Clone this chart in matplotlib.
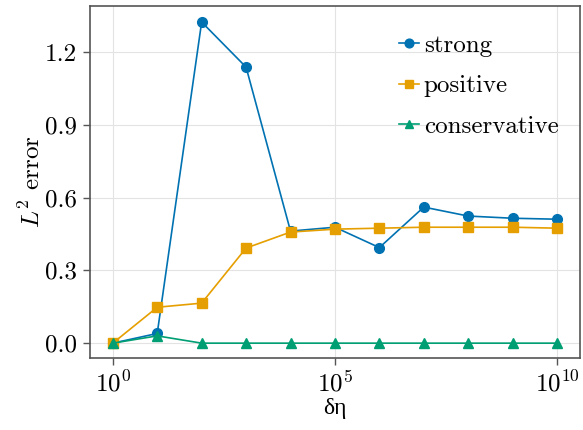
import numpy as np
import matplotlib
matplotlib.use("Agg")
import matplotlib.pyplot as plt

# data
deta = [1e0, 1e1, 1e2, 1e3, 1e4, 1e5, 1e6, 1e7, 1e8, 1e9, 1e10]
strong = [0.0, 0.04, 1.324, 1.138, 0.462, 0.478, 0.394, 0.561, 0.524, 0.515, 0.511]
positive = [0.0, 0.148, 0.165, 0.392, 0.458, 0.470, 0.474, 0.478, 0.478, 0.478, 0.474]
conservative = [0.0, 0.03, 0.0, 0.0, 0.0, 0.0, 0.0, 0.0, 0.0, 0.0, 0.0]

xticks = [1e0, 1e5, 1e10]
yticks = [0.0, 0.3, 0.6, 0.9, 1.2]

plt.rcParams["font.family"] = "serif"
plt.rcParams["font.serif"] = ["cmr10"]
plt.rcParams["mathtext.fontset"] = "cm"
plt.rcParams["axes.formatter.use_mathtext"] = True

fig = plt.figure(figsize=(5.83, 4.30), dpi=100)
ax = fig.add_axes([0.154, 0.167, 0.841, 0.819])

ax.plot(deta, strong, color="#0072B2", marker="o", markersize=7, lw=1.2, label="strong")
ax.plot(deta, positive, color="#E69F00", marker="s", markersize=6.5, lw=1.2, label="positive")
ax.plot(deta, conservative, color="#009E73", marker="^", markersize=7, lw=1.2, label="conservative")

ax.set_xscale("log")
ax.set_xlim(10 ** -0.518, 10 ** 10.518)
ax.set_ylim(-0.062, 1.39)
ax.set_xticks(xticks)
ax.set_xticklabels([r"$10^{0}$", r"$10^{5}$", r"$10^{10}$"])
ax.xaxis.set_minor_locator(matplotlib.ticker.NullLocator())
ax.set_yticks(yticks)
ax.set_yticklabels(["0.0", "0.3", "0.6", "0.9", "1.2"])

ax.grid(True, color="#e3e3e3", lw=0.8)
ax.set_axisbelow(True)
for s in ax.spines.values():
    s.set_color("#555555")
    s.set_linewidth(1.2)
ax.tick_params(labelsize=18, length=5, width=1, color="#555555", pad=4)

ax.set_xlabel("δη", fontsize=17, fontfamily="Liberation Serif", labelpad=1)
ax.set_ylabel(r"$L^2$ error", fontsize=18, labelpad=0)

ax.legend(loc="upper right", bbox_to_anchor=(1.002, 0.984), frameon=False, fontsize=18,
          handlelength=0.8, handletextpad=0.2, labelspacing=0.73, markerscale=0.9)

fig.savefig("out.png", dpi=100)
